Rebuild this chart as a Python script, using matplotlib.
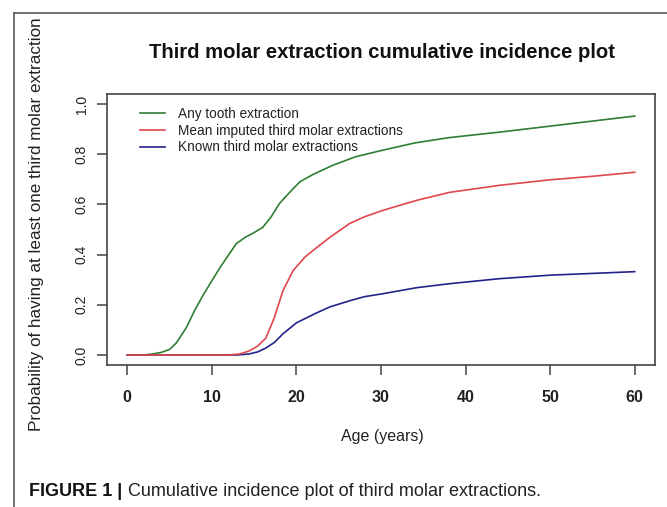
import matplotlib
matplotlib.use("Agg")
import matplotlib.pyplot as plt
from matplotlib.lines import Line2D

plt.rcParams['font.family'] = ['Liberation Sans', 'DejaVu Sans']

# Data (age in years, cumulative probability)
any_age = [0, 2, 3, 4, 5, 5.8, 7, 8, 9, 10, 11, 12, 12.9, 14, 14.8, 16, 17, 18, 19.2, 20.4, 22, 24.3, 27, 30.2, 34, 38, 44, 50, 55, 60]
any_p = [0, 0, 0.004, 0.01, 0.022, 0.048, 0.11, 0.18, 0.24, 0.296, 0.35, 0.40, 0.444, 0.47, 0.484, 0.508, 0.55, 0.604, 0.648, 0.69, 0.72, 0.756, 0.79, 0.816, 0.845, 0.866, 0.888, 0.912, 0.932, 0.952]

imp_age = [0, 12, 13.3, 14.4, 15.4, 16.4, 17.4, 18.4, 19.6, 21, 22.4, 24, 26.3, 28, 30.2, 34.2, 38.1, 44, 50, 55, 60]
imp_p = [0, 0, 0.004, 0.016, 0.035, 0.068, 0.15, 0.256, 0.336, 0.39, 0.428, 0.47, 0.524, 0.55, 0.576, 0.616, 0.648, 0.676, 0.698, 0.712, 0.728]

known_age = [0, 13, 14.4, 15.4, 16.4, 17.4, 18.4, 20, 22.4, 24, 26.3, 28, 30.2, 34.2, 38.1, 44, 50, 55, 60]
known_p = [0, 0, 0.004, 0.012, 0.028, 0.05, 0.084, 0.128, 0.168, 0.192, 0.216, 0.232, 0.244, 0.268, 0.284, 0.304, 0.318, 0.325, 0.332]

labels = ["Any tooth extraction", "Mean imputed third molar extractions", "Known third molar extractions"]
colors = ["#2f7f33", "#e0474c", "#23238a"]

x_ticks = [0, 10, 20, 30, 40, 50, 60]
y_ticks = [0.0, 0.2, 0.4, 0.6, 0.8, 1.0]

W, H = 667, 507
fig = plt.figure(figsize=(W/100, H/100), dpi=100)
ax = fig.add_axes([107/W, 1-365/H, (655-107)/W, (365-94)/H])

l1, = ax.plot(any_age, any_p, color=colors[0], lw=1.2)
l3, = ax.plot(known_age, known_p, color=colors[2], lw=1.2)
l2, = ax.plot(imp_age, imp_p, color=colors[1], lw=1.2)

ax.set_xlim(-2.4, 62.4)
ax.set_ylim(-0.04, 1.04)
ax.set_xticks(x_ticks)
ax.set_xticklabels([str(t) for t in x_ticks], fontsize=11.5, fontweight='bold', color='#222222')
ax.set_yticks(y_ticks)
ax.set_yticklabels(["%.1f" % t for t in y_ticks], fontsize=10, rotation=90, va='center', color='#222222')
ax.tick_params(axis='x', length=7, width=1.1, pad=11, color='#444444')
ax.tick_params(axis='y', length=7, width=1.1, pad=6, color='#444444')
for s in ax.spines.values():
    s.set_color('#444444')
    s.set_linewidth(1.2)

leg = ax.legend([l1, l2, l3], labels, loc='upper left', bbox_to_anchor=((140-107)/548, 1-(107-94)/271),
                frameon=False, fontsize=9.8, handlelength=1.8, handletextpad=1.0, labelspacing=0.2,
                borderaxespad=0, borderpad=0)
for t in leg.get_texts():
    t.set_color('#222222')

fig.text(382/W, 1-52/H, "Third molar extraction cumulative incidence plot", ha='center', va='center',
         fontsize=14.6, fontweight='bold', color='#111111')
fig.text(382/W, 1-437/H, "Age (years)", ha='center', va='center', fontsize=11.5, color='#222222')
fig.text(37/W, 1-224/H, "Probability of having at least one third molar extraction", ha='center', va='center',
         rotation=90, fontsize=12.3, color='#222222')

cap1 = fig.text(29/W, 1-492/H, "FIGURE 1 |", ha='left', va='center', fontsize=13, fontweight='bold', color='#111111')
fig.canvas.draw()
bb = cap1.get_window_extent(renderer=fig.canvas.get_renderer())
fig.text((bb.x1 + 6)/W, 1-492/H, "Cumulative incidence plot of third molar extractions.", ha='left', va='center',
         fontsize=13, color='#222222')

# card border (left and top)
fig.add_artist(Line2D([14/W, 14/W], [0, 1-13/H], transform=fig.transFigure, color='#555555', lw=1.2))
fig.add_artist(Line2D([14/W, 1], [1-13/H, 1-13/H], transform=fig.transFigure, color='#555555', lw=1.2))

fig.savefig("out.png", dpi=100)
